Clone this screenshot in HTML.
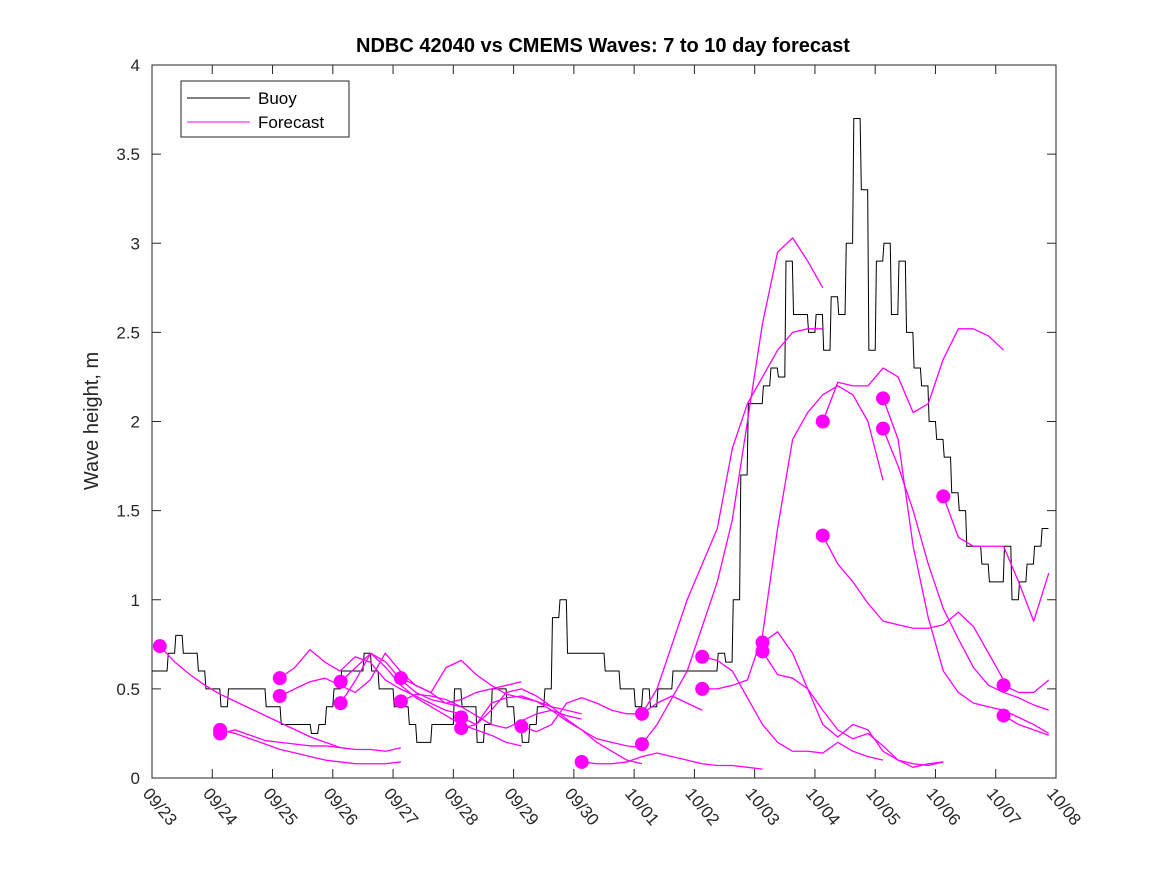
<!DOCTYPE html>
<html><head><meta charset="utf-8"><style>
body{margin:0;background:#fff;}
svg{display:block;font-family:"Liberation Sans","DejaVu Sans",sans-serif;}
</style></head><body>
<svg id="chart" width="1167" height="875" viewBox="0 0 1167 875">
<rect width="1167" height="875" fill="#fff"/>
<text x="603" y="52" text-anchor="middle" font-size="20" font-weight="bold" fill="#000">NDBC 42040 vs CMEMS Waves: 7 to 10 day forecast</text>
<text transform="translate(98,421) rotate(-90)" text-anchor="middle" font-size="20" fill="#262626">Wave height, m</text>
<g id="axes"></g>
<g id="series"></g>
<g>
<rect x="181" y="81" width="168" height="56" fill="#fff" stroke="#262626" stroke-width="1"/>
<line x1="187" y1="98" x2="250" y2="98" stroke="#000" stroke-width="1"/>
<text x="258" y="104" font-size="17" fill="#000">Buoy</text>
<line x1="187" y1="122" x2="250" y2="122" stroke="#ff00ff" stroke-width="1"/>
<text x="258" y="128" font-size="17" fill="#000">Forecast</text>
</g>
</svg>
<script>
const xTickLabels=["09/23","09/24","09/25","09/26","09/27","09/28","09/29","09/30","10/01","10/02","10/03","10/04","10/05","10/06","10/07","10/08"];
const yTicks=[0,0.5,1,1.5,2,2.5,3,3.5,4];
const yTickLabels=["0","0.5","1","1.5","2","2.5","3","3.5","4"];
const buoyStep=0.125;
const buoyVals=[
0.6,0.6,0.7,0.8,0.7,0.7,0.6,0.5,
0.5,0.4,0.5,0.5,0.5,0.5,0.5,0.4,
0.4,0.3,0.3,0.3,0.3,0.25,0.3,0.4,
0.5,0.6,0.6,0.6,0.7,0.6,0.5,0.5,
0.4,0.4,0.3,0.2,0.2,0.3,0.3,0.3,
0.5,0.4,0.4,0.2,0.3,0.5,0.5,0.4,
0.3,0.2,0.3,0.4,0.5,0.9,1.0,0.7,
0.7,0.7,0.7,0.7,0.6,0.6,0.5,0.5,
0.4,0.5,0.4,0.5,0.5,0.6,0.6,0.6,
0.6,0.6,0.6,0.7,0.65,1.0,1.7,2.1,
2.1,2.2,2.3,2.25,2.9,2.6,2.6,2.5,
2.6,2.4,2.7,2.6,3.0,3.7,3.3,2.4,
2.9,3.0,2.6,2.9,2.5,2.3,2.2,2.0,
1.9,1.8,1.6,1.5,1.3,1.3,1.2,1.1,
1.1,1.3,1.0,1.1,1.2,1.3,1.4];
const fcStep=0.25;
const fcStart=[0.13,1.13,1.13,2.12,2.12,3.13,3.13,4.13,4.13,5.13,5.13,6.13,7.13,8.13,8.13,9.13,9.13,10.13,10.13,11.13,11.13,12.13,12.13,13.13,14.13,14.13];
const fcVals=[
[0.74,0.65,0.58,0.52,0.47,0.43,0.39,0.35,0.31,0.27,0.23,0.2,0.17],
[0.27,0.25,0.22,0.19,0.16,0.14,0.12,0.1,0.09,0.08,0.08,0.08,0.09],
[0.25,0.27,0.24,0.21,0.2,0.19,0.18,0.18,0.17,0.16,0.16,0.15,0.17],
[0.56,0.62,0.72,0.65,0.6,0.68,0.65,0.55,0.5,0.46,0.42,0.38,0.36],
[0.46,0.5,0.54,0.56,0.52,0.48,0.55,0.7,0.6,0.52,0.48,0.42,0.4],
[0.54,0.62,0.7,0.65,0.55,0.48,0.44,0.42,0.44,0.48,0.5,0.52,0.54],
[0.42,0.55,0.7,0.62,0.52,0.45,0.4,0.35,0.3,0.27,0.24,0.2,0.18],
[0.56,0.52,0.48,0.62,0.66,0.58,0.52,0.47,0.45,0.43,0.4,0.38,0.36],
[0.43,0.47,0.46,0.44,0.4,0.35,0.3,0.28,0.32,0.36,0.38,0.35,0.33],
[0.34,0.3,0.38,0.48,0.5,0.46,0.4,0.33,0.27,0.22,0.2,0.18,0.17],
[0.28,0.3,0.42,0.45,0.46,0.43,0.38,0.32,0.27,0.2,0.15,0.1,0.08],
[0.29,0.26,0.3,0.42,0.45,0.42,0.38,0.36,0.36,0.42,0.46,0.42,0.38],
[0.09,0.08,0.08,0.09,0.12,0.14,0.12,0.1,0.08,0.07,0.07,0.06,0.05],
[0.36,0.5,0.75,1.0,1.2,1.4,1.85,2.1,2.25,2.4,2.5,2.52,2.52],
[0.19,0.3,0.45,0.6,0.85,1.1,1.45,2.0,2.55,2.95,3.03,2.9,2.75],
[0.68,0.66,0.6,0.45,0.3,0.2,0.15,0.15,0.14,0.2,0.15,0.12,0.1],
[0.5,0.5,0.52,0.55,0.8,1.4,1.9,2.05,2.15,2.2,2.15,2.0,1.67],
[0.76,0.82,0.7,0.5,0.3,0.23,0.3,0.27,0.15,0.1,0.06,0.08,0.09],
[0.71,0.58,0.56,0.5,0.38,0.27,0.22,0.25,0.18,0.1,0.08,0.07,0.09],
[2.0,2.22,2.2,2.2,2.3,2.25,2.05,2.1,2.35,2.52,2.52,2.48,2.4],
[1.36,1.2,1.1,0.98,0.88,0.86,0.84,0.84,0.86,0.93,0.85,0.7,0.55],
[2.13,1.9,1.3,0.9,0.6,0.48,0.42,0.4,0.38,0.34,0.3,0.25,0.22],
[1.96,1.75,1.5,1.2,0.95,0.78,0.62,0.52,0.48,0.45,0.41,0.38,0.37],
[1.58,1.35,1.3,1.3,1.3,1.1,0.88,1.15,1.33,1.32,1.25],
[0.52,0.48,0.48,0.55,0.6],
[0.35,0.3,0.27,0.24,0.23]
];
const NS="http://www.w3.org/2000/svg";
const X0=152,X1=1056,Y0=778,Y1=65,DAYS=15,YMAX=4;
function xs(d){return X0+(X1-X0)*d/DAYS;}
function ys(v){return Y0-(Y0-Y1)*v/YMAX;}
function mk(tag,attrs,parent){const e=document.createElementNS(NS,tag);for(const k in attrs)e.setAttribute(k,attrs[k]);parent.appendChild(e);return e;}
const ax=document.getElementById('axes');
const frame=mk('rect',{x:X0,y:Y1,width:X1-X0,height:Y0-Y1,fill:'none',stroke:'#262626','stroke-width':1},ax);


yTicks.forEach((v,i)=>{
  const y=ys(v);
  const t=mk('path',{d:`M${X0} ${y}h9M${X1} ${y}h-9`,stroke:'#262626','stroke-width':1},ax);
  
  
  const l=mk('text',{x:X0-12,y:y+6,'text-anchor':'end','font-size':17,fill:'#262626'},ax);
  l.textContent=yTickLabels[i];
  
  
});
xTickLabels.forEach((s,i)=>{
  const x=xs(i);
  const t=mk('path',{d:`M${x} ${Y0}v-9M${x} ${Y1}v9`,stroke:'#262626','stroke-width':1},ax);
  
  
  const l=mk('text',{x:0,y:0,'font-size':17,fill:'#262626',transform:`translate(${x-10},${Y0+16}) rotate(50)`},ax);
  l.textContent=s;
  
  
});
const sg=document.getElementById('series');
let d='';
buoyVals.forEach((v,i)=>{const x0=xs(i*buoyStep),x1=xs((i+1)*buoyStep),y=ys(v);d+= i===0?`M${x0} ${y}`:`L${x0+1.2} ${y}`;d+=`H${x1}`;});
const bl=mk('path',{d:d,fill:'none',stroke:'#000','stroke-width':1},sg);


fcVals.forEach((vals,k)=>{
  let p='';
  vals.forEach((v,i)=>{const dd=fcStart[k]+i*fcStep;if(dd>DAYS)return;p+=(i===0?'M':'L')+xs(dd)+' '+ys(v);});
  const fl=mk('path',{d:p,fill:'none',stroke:'#ff00ff','stroke-width':1.3,'stroke-linejoin':'round'},sg);
  
  
});
fcVals.forEach((vals,k)=>{
  const c=mk('circle',{cx:xs(fcStart[k]),cy:ys(vals[0]),r:7,fill:'#ff00ff'},sg);
  
  
});
</script>
</body></html>
